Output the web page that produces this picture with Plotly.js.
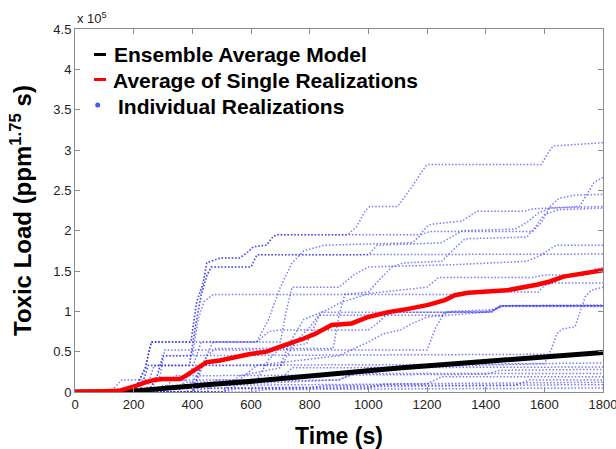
<!DOCTYPE html>
<html>
<head>
<meta charset="utf-8">
<script src="https://cdn.plot.ly/plotly-3.0.1.min.js"></script>
<style>
  html, body { margin: 0; padding: 0; background: #ffffff; }
  #chart { width: 616px; height: 449px; }
</style>
</head>
<body>
<div id="chart"></div>
<script>
// Toxic load (in units of 1e5 ppm^1.75 s) versus time (s).

// Axis ticks
const timeTicks = [0, 200, 400, 600, 800, 1000, 1200, 1400, 1600, 1800];
const loadTicks = [0, 0.5, 1, 1.5, 2, 2.5, 3, 3.5, 4, 4.5];

// Ensemble average model: [time, load]
const ensembleAverage = [
  [0, 0], [100, 0], [222, 0.02], [335, 0.06], [449, 0.09], [562, 0.12],
  [676, 0.16], [778, 0.19], [932, 0.24], [1114, 0.30], [1295, 0.35],
  [1489, 0.40], [1800, 0.49]
];

// Average of the single realizations: [time, load]
const realizationAverage = [
  [0, 0], [60, 0], [100, 0.01], [150, 0.015], [176, 0.04], [210, 0.08],
  [240, 0.12], [270, 0.15], [300, 0.16], [358, 0.16], [381, 0.21],
  [415, 0.29], [449, 0.37], [494, 0.39], [540, 0.43], [597, 0.47],
  [653, 0.50], [688, 0.54], [722, 0.59], [778, 0.66], [818, 0.72],
  [875, 0.83], [943, 0.85], [1000, 0.93], [1068, 0.99], [1136, 1.03],
  [1204, 1.08], [1261, 1.14], [1295, 1.20], [1340, 1.23], [1400, 1.24],
  [1472, 1.26], [1574, 1.33], [1619, 1.37], [1665, 1.43], [1733, 1.47],
  [1800, 1.51]
];

// Individual realizations: [time, load] breakpoints
const run01 = [[0,0],[200,0],[240,0.3],[260,0.62],[395,0.62],[415,1.12],[437,1.35],[449,1.60],[494,1.66],[560,1.66],[585,1.72],[608,1.80],[653,1.82],[676,1.93],[690,1.95],[930,1.95],[960,2.05],[990,2.25],[1005,2.30],[1100,2.30],[1120,2.40],[1150,2.55],[1180,2.72],[1200,2.82],[1590,2.82],[1610,2.95],[1630,3.05],[1700,3.07],[1800,3.09]];
const run02 = [[0,0],[200,0],[240,0.3],[260,0.62],[395,0.62],[415,1.12],[437,1.35],[449,1.60],[494,1.66],[560,1.66],[585,1.72],[608,1.80],[653,1.82],[676,1.93],[690,1.95],[1176,1.95],[1200,2.05],[1215,2.08],[1320,2.12],[1345,2.18],[1370,2.24],[1530,2.24],[1560,2.27],[1720,2.30],[1745,2.45],[1770,2.60],[1800,2.66]];
const run03 = [[0,0],[350,0],[400,0.3],[430,0.62],[620,0.62],[660,0.9],[700,1.3],[740,1.6],[780,1.75],[850,1.82],[1150,1.85],[1180,1.95],[1210,1.99],[1560,1.99],[1590,2.10],[1620,2.30],[1650,2.40],[1700,2.44],[1800,2.45]];
const run04 = [[0,0],[220,0],[250,0.33],[390,0.33],[410,0.8],[430,1.2],[450,1.45],[465,1.55],[600,1.55],[620,1.70],[1000,1.70],[1030,1.82],[1250,1.85],[1290,1.93],[1320,2.00],[1500,2.02],[1540,2.10],[1580,2.22],[1620,2.28],[1800,2.30]];
const run05 = [[0,0],[220,0],[250,0.33],[390,0.33],[410,0.8],[430,1.2],[450,1.45],[465,1.55],[600,1.55],[620,1.70],[1800,1.71]];
const run06 = [[0,0],[380,0],[430,0.3],[470,0.62],[700,0.62],[720,1.0],[740,1.30],[900,1.30],[950,1.45],[1000,1.55],[1300,1.58],[1540,1.62],[1590,1.70],[1640,1.82],[1800,1.82]];
const run07 = [[0,0],[400,0],[450,0.45],[480,0.54],[880,0.54],[900,0.95],[920,1.21],[1000,1.24],[1040,1.40],[1080,1.55],[1120,1.60],[1250,1.62],[1300,1.80],[1330,1.90],[1540,1.92],[1570,2.05],[1600,2.20],[1650,2.26],[1800,2.28]];
const run08 = [[0,0],[400,0],[430,0.33],[700,0.33],[730,0.6],[780,0.9],[850,1.0],[900,1.1],[1000,1.22],[1200,1.30],[1240,1.42],[1560,1.42],[1600,1.45],[1740,1.45],[1770,1.52],[1800,1.54]];
const run09 = [[0,0],[250,0],[280,0.2],[300,0.45],[400,0.45],[420,0.9],[440,1.12],[471,1.21],[1300,1.21],[1340,1.24],[1580,1.24],[1600,1.32],[1630,1.35],[1800,1.35]];
const run10 = [[0,0],[450,0],[480,0.15],[620,0.15],[660,0.4],[700,0.55],[790,0.6],[820,0.85],[840,0.99],[1420,0.99],[1450,1.07],[1800,1.07]];
const run11 = [[0,0],[500,0],[560,0.2],[700,0.3],[750,0.62],[800,0.80],[830,0.95],[1250,0.95],[1280,1.0],[1430,1.02],[1460,1.07],[1800,1.08]];
const run12 = [[0,0],[400,0],[430,0.1],[560,0.15],[620,0.33],[900,0.45],[1000,0.62],[1050,0.72],[1110,0.77],[1150,0.85],[1200,0.93],[1400,0.99],[1450,1.06],[1800,1.06]];
const run13 = [[0,0],[500,0],[560,0.1],[900,0.15],[1000,0.3],[1600,0.35],[1625,0.54],[1642,0.72],[1660,0.78],[1705,0.81],[1716,0.93],[1739,1.18],[1760,1.26],[1800,1.30]];
const run14 = [[0,0],[200,0],[240,0.3],[260,0.62],[620,0.62],[660,0.75],[700,0.77],[1000,0.77],[1030,0.85],[1060,0.95],[1100,0.99],[1420,0.99],[1450,1.07],[1800,1.07]];
const run15 = [[0,0],[250,0],[290,0.2],[306,0.52],[1200,0.52],[1230,0.8],[1260,0.99],[1420,1.0],[1460,1.07],[1800,1.07]];
const run16 = [[0,0],[250,0],[280,0.2],[300,0.45],[1800,0.47]];
const run17 = [[0,0],[240,0],[270,0.33],[1200,0.34],[1800,0.36]];
const run18 = [[0,0],[300,0],[340,0.2],[1400,0.22],[1450,0.27],[1800,0.28]];
const run19 = [[0,0],[350,0],[380,0.12],[900,0.15],[950,0.23],[1800,0.23]];
const run20 = [[0,0],[260,0],[300,0.08],[1200,0.10],[1250,0.19],[1800,0.19]];
const run21 = [[0,0],[400,0],[450,0.05],[1500,0.08],[1550,0.15],[1800,0.15]];
const run22 = [[0,0],[500,0],[550,0.04],[1000,0.05],[1050,0.10],[1800,0.12]];
const run23 = [[0,0],[600,0],[650,0.03],[1800,0.05]];
const run24 = [[0,0],[120,0],[160,0.15],[700,0.15],[740,0.30],[1800,0.31]];
const run25 = [[0,0],[150,0],[200,0.04],[800,0.05],[850,0.08],[1800,0.09]];

const realizations = [run01, run02, run03, run04, run05, run06, run07, run08, run09,
  run10, run11, run12, run13, run14, run15, run16, run17, run18, run19, run20,
  run21, run22, run23, run24, run25];

const legendLabels = ['Ensemble Average Model', 'Average of Single Realizations', 'Individual Realizations'];

const FONT = 'Liberation Sans, Arial, Helvetica, sans-serif';
const AXIS_GREY = '#8c8c8c';
const DOT_BLUE = 'rgba(40,40,255,0.62)';

const xs = pts => pts.map(p => p[0]);
const ys = pts => pts.map(p => p[1]);

const traces = [];
realizations.forEach(run => {
  traces.push({
    type: 'scatter', mode: 'lines',
    x: xs(run), y: ys(run),
    line: { color: DOT_BLUE, width: 1.5, dash: '1.5px,1.9px' },
    hoverinfo: 'skip'
  });
});
traces.push({
  type: 'scatter', mode: 'lines', name: legendLabels[0],
  x: xs(ensembleAverage), y: ys(ensembleAverage),
  line: { color: '#000000', width: 5 }
});
traces.push({
  type: 'scatter', mode: 'lines', name: legendLabels[1],
  x: xs(realizationAverage), y: ys(realizationAverage),
  line: { color: '#ff0000', width: 4.5 }
});

// pixel -> paper helpers for the in-plot key
const PLOT = { l: 75, r: 13, t: 29, b: 57, w: 616, h: 449 };
const pw = PLOT.w - PLOT.l - PLOT.r, ph = PLOT.h - PLOT.t - PLOT.b;
const px = v => (v - PLOT.l) / pw;
const py = v => (PLOT.h - PLOT.b - v) / ph;

const keyFont = { family: FONT, size: 21, color: '#000', weight: 'bold' };
const annotations = [
  { text: legendLabels[0], x: px(112), y: py(54), xanchor: 'left', yanchor: 'middle' },
  { text: legendLabels[1], x: px(111), y: py(80), xanchor: 'left', yanchor: 'middle' },
  { text: legendLabels[2], x: px(116), y: py(106), xanchor: 'left', yanchor: 'middle' }
].map(a => Object.assign(a, { xref: 'paper', yref: 'paper', showarrow: false, font: keyFont }));

annotations.push({
  text: 'x 10<sup>5</sup>', xref: 'paper', yref: 'paper', x: 0, y: 1,
  xanchor: 'left', yanchor: 'bottom', yshift: 1, showarrow: false,
  font: { family: FONT, size: 13, color: '#222' }
});

const shapes = [
  { type: 'line', xref: 'paper', yref: 'paper', x0: px(94), x1: px(106), y0: py(54.5), y1: py(54.5),
    line: { color: '#000', width: 3 } },
  { type: 'line', xref: 'paper', yref: 'paper', x0: px(94), x1: px(106), y0: py(79.5), y1: py(79.5),
    line: { color: '#ff0000', width: 3 } },
  { type: 'circle', xref: 'paper', yref: 'paper', x0: px(95.2), x1: px(100.2), y0: py(102.5), y1: py(107.5),
    fillcolor: '#3b5bff', line: { width: 0 } }
];

const axisCommon = {
  ticks: 'inside', ticklen: 5, tickcolor: AXIS_GREY, tickwidth: 1,
  showline: true, linecolor: AXIS_GREY, linewidth: 1, mirror: 'ticks',
  showgrid: false, zeroline: false, automargin: false,
  ticklabeloverflow: 'allow',
  tickfont: { family: FONT, size: 13, color: '#222' }
};

const layout = {
  width: 616, height: 449,
  margin: { l: PLOT.l, r: PLOT.r, t: PLOT.t, b: PLOT.b },
  paper_bgcolor: '#ffffff', plot_bgcolor: '#ffffff',
  showlegend: false,
  xaxis: Object.assign({}, axisCommon, {
    range: [0, 1800], tickvals: timeTicks, ticktext: timeTicks.map(String),
    title: { text: 'Time (s)', standoff: 20,
      font: { family: FONT, size: 23, color: '#000', weight: 'bold' } }
  }),
  yaxis: Object.assign({}, axisCommon, {
    range: [0, 4.5], tickvals: loadTicks, ticktext: loadTicks.map(String),
    title: { text: 'Toxic Load (ppm<sup>1.75</sup> s)', standoff: 14,
      font: { family: FONT, size: 24, color: '#000', weight: 'bold' } }
  }),
  annotations: annotations,
  shapes: shapes
};

Plotly.newPlot('chart', traces, layout, { staticPlot: true, displayModeBar: false });
</script>
</body>
</html>
